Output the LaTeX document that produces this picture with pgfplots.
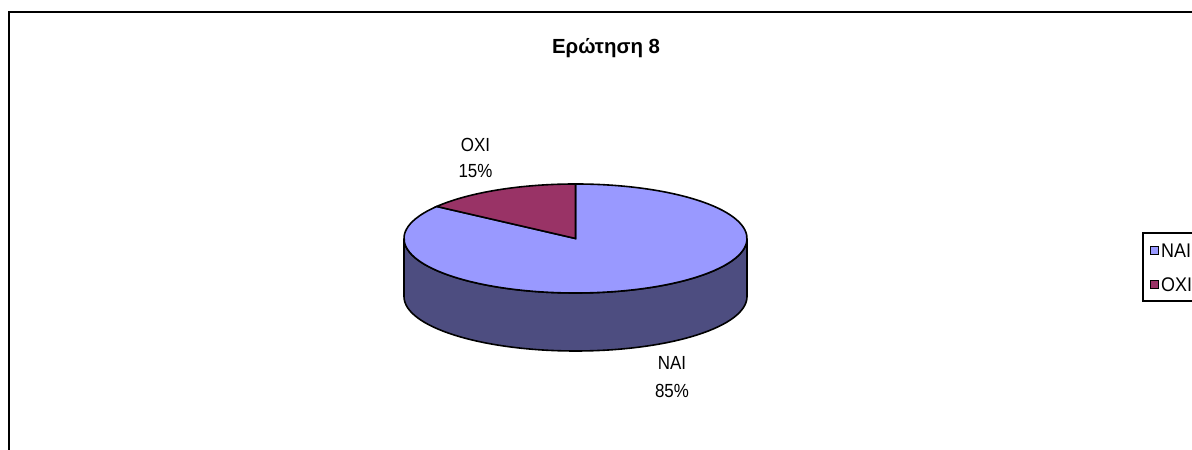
\documentclass[border=0pt]{standalone}
\usepackage{fontspec}
\setmainfont{Liberation Sans}
\usepackage{graphicx}
\usepackage{pgfplots}
\pgfplotsset{compat=1.18}

\definecolor{naitop}{RGB}{153,153,255}
\definecolor{naiside}{RGB}{77,77,128}
\definecolor{oxitop}{RGB}{153,51,102}

% pie data (percent)
\def\valNAI{85}
\def\valOXI{15}

% geometry in px, y measured upwards
\def\cx{575.5}
\def\cy{211.5}
\def\rx{171.5}
\def\ry{54.5}
\def\depth{58}

\newcommand{\lbl}[1]{\fontsize{17}{20}\selectfont\scalebox{1}[1.12]{#1}}
\newcommand{\leg}[1]{\fontsize{18}{20}\selectfont\scalebox{1}[1.1]{#1}}

\begin{document}
\begin{tikzpicture}
\pgfmathsetmacro{\aOXI}{90+3.6*\valOXI}
\begin{axis}[
  x=1bp, y=1bp,
  xmin=0, xmax=1192, ymin=0, ymax=450,
  hide axis, clip=false,
  ]
  % outer frame
  \draw[line width=2bp] (axis cs:9,-5) -- (axis cs:9,437.5) -- (axis cs:1200,437.5);
  % title
  \node[font=\fontsize{20.5}{24}\selectfont\bfseries] at (axis cs:606,402) {Ερώτηση 8};

  % side wall (front half belongs to NAI)
  \filldraw[fill=naiside, draw=black, line width=1.6bp]
    (axis cs:{\cx-\rx},\cy) arc[start angle=180, end angle=360, x radius=\rx, y radius=\ry]
    -- (axis cs:{\cx+\rx},{\cy-\depth})
    arc[start angle=0, end angle=-180, x radius=\rx, y radius=\ry] -- cycle;
  % top: NAI
  \filldraw[fill=naitop, draw=black, line width=1.6bp]
    (axis cs:\cx,\cy) -- (axis cs:{\cx+\rx*cos(\aOXI)},{\cy+\ry*sin(\aOXI)})
    arc[start angle=\aOXI, end angle=450, x radius=\rx, y radius=\ry] -- cycle;
  % top: OXI
  \filldraw[fill=oxitop, draw=black, line width=1.6bp]
    (axis cs:\cx,\cy) -- (axis cs:\cx,{\cy+\ry})
    arc[start angle=90, end angle=\aOXI, x radius=\rx, y radius=\ry] -- cycle;

  % data labels
  \node at (axis cs:475.5,305) {\lbl{ΟΧΙ}};
  \node at (axis cs:475.5,278.5) {\lbl{\valOXI\%}};
  \node at (axis cs:672,87.5) {\lbl{ΝΑΙ}};
  \node at (axis cs:672,59.5) {\lbl{\valNAI\%}};

  % legend
  \draw[line width=1.5bp] (axis cs:1200,217) -- (axis cs:1143,217) -- (axis cs:1143,149) -- (axis cs:1200,149);
  \filldraw[fill=naitop, draw=black, line width=1bp] (axis cs:1150,195) rectangle (axis cs:1158,203);
  \filldraw[fill=oxitop, draw=black, line width=1bp] (axis cs:1150,161) rectangle (axis cs:1158,169);
  \node[anchor=west, inner sep=0pt] at (axis cs:1161,199) {\leg{ΝΑΙ}};
  \node[anchor=west, inner sep=0pt] at (axis cs:1161,165) {\leg{ΟΧΙ}};
\end{axis}
\pgfresetboundingbox
\path[use as bounding box] (current axis.south west) rectangle (current axis.north east);
\end{tikzpicture}
\end{document}
